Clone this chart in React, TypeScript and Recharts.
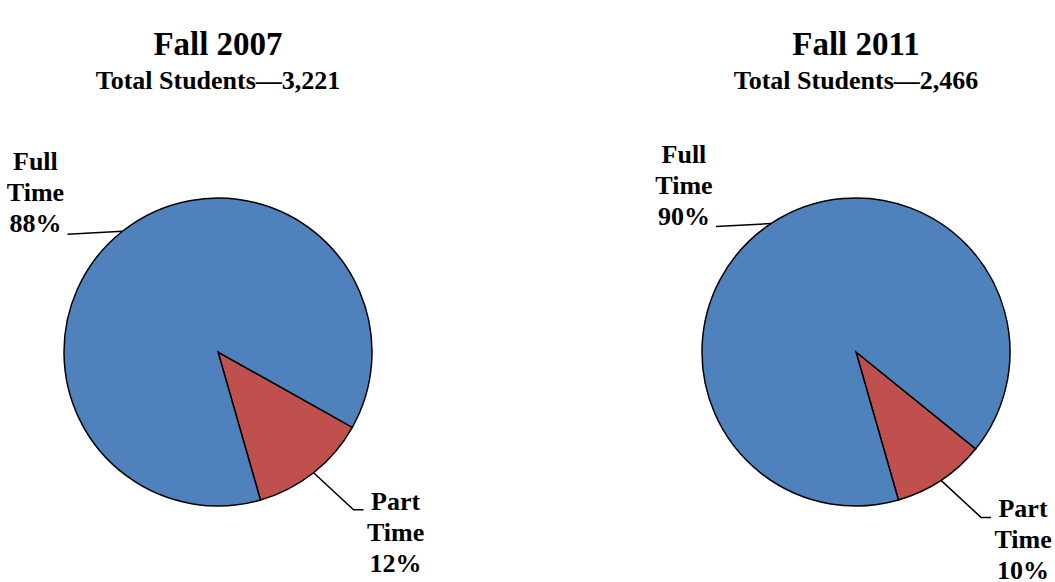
import React from "react";
import { PieChart, Pie, Cell } from "recharts";

const terms = ["Fall 2007", "Fall 2011"];
const totals = [3221, 2466];
const statusLabels = ["Part Time", "Full Time"];
// head counts (part time first)
const fall2007Counts = [400, 2821];
const fall2011Counts = [240, 2226];

const COLORS = ["#C0504D", "#4F81BD"];
const RADIAN = Math.PI / 180;
const FONT = "'Liberation Serif', 'Times New Roman', serif";

const toRows = (counts: number[]) =>
  statusLabels.map((name, i) => ({ name, value: counts[i] }));

const pies = [
  { cx: 218, cy: 352, data: toRows(fall2007Counts) },
  { cx: 856, cy: 352, data: toRows(fall2011Counts) },
];

// eslint-disable-next-line @typescript-eslint/no-explicit-any
const renderLabel = (props: any) => {
  const { cx, cy, midAngle, outerRadius, percent, name } = props;
  const ex = cx + outerRadius * Math.cos(-midAngle * RADIAN);
  const ey = cy + outerRadius * Math.sin(-midAngle * RADIAN);
  const [first, second] = name.split(" ");
  const lines = [first, second, `${Math.round(percent * 100)}%`];
  const textStyle = { fontFamily: FONT, fontWeight: 700, fontSize: 26, fill: "#000" };

  if (name === "Part Time") {
    const mx = ex + 40;
    const my = ey + 37;
    const endX = mx + 10;
    return (
      <g>
        <polyline
          points={`${ex},${ey} ${mx},${my} ${endX},${my}`}
          fill="none"
          stroke="#000"
          strokeWidth={1.5}
        />
        {lines.map((t, i) => (
          <text key={i} x={endX + 32} y={my + i * 31} textAnchor="middle" style={textStyle}>
            {t}
          </text>
        ))}
      </g>
    );
  }

  const endX = ex - 55;
  const endY = ey + 3;
  return (
    <g>
      <line x1={ex} y1={ey} x2={endX} y2={endY} stroke="#000" strokeWidth={1.5} />
      {lines.map((t, i) => (
        <text
          key={i}
          x={endX - 32}
          y={endY - 2 - (2 - i) * 31}
          textAnchor="middle"
          style={textStyle}
        >
          {t}
        </text>
      ))}
    </g>
  );
};

export default function App() {
  return (
    <div style={{ position: "absolute", left: 0, top: 0, width: 1055, height: 582, background: "#fff" }}>
      <PieChart width={1055} height={582} margin={{ top: 0, right: 0, bottom: 0, left: 0 }}>
        {pies.map((p, k) => (
          <Pie
            key={k}
            data={p.data}
            dataKey="value"
            nameKey="name"
            cx={p.cx}
            cy={p.cy}
            outerRadius={154}
            startAngle={-74}
            endAngle={286}
            stroke="#000"
            strokeWidth={1.5}
            label={renderLabel}
            labelLine={false}
            isAnimationActive={false}
          >
            {p.data.map((_, i) => (
              <Cell key={`cell-${i}`} fill={COLORS[i]} />
            ))}
          </Pie>
        ))}
      </PieChart>
      <svg
        width={1055}
        height={120}
        style={{ position: "absolute", left: 0, top: 0, pointerEvents: "none" }}
      >
        {pies.map((p, k) => (
          <g key={k} style={{ fontFamily: FONT, fontWeight: 700 }}>
            <text x={p.cx} y={55} textAnchor="middle" fontSize={33}>
              {terms[k]}
            </text>
            <text x={p.cx} y={89} textAnchor="middle" fontSize={26}>
              {`Total Students\u2014${totals[k].toLocaleString("en-US")}`}
            </text>
          </g>
        ))}
      </svg>
    </div>
  );
}
